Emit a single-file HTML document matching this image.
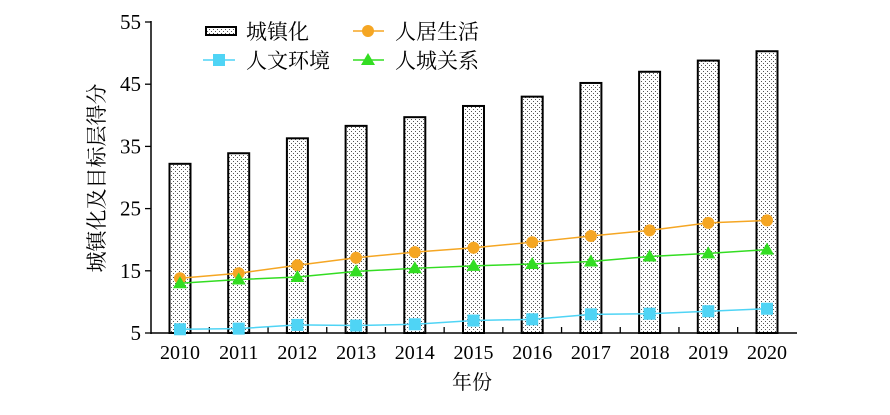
<!DOCTYPE html>
<html><head><meta charset="utf-8"><style>
html,body{margin:0;padding:0;background:#fff}
svg text{font-family:"Liberation Serif","Noto Serif CJK SC",serif;fill:#000}
</style></head><body>
<svg width="890" height="410" viewBox="0 0 890 410" xmlns="http://www.w3.org/2000/svg">
<defs>
<pattern id="dots" width="4" height="4" patternUnits="userSpaceOnUse">
<rect width="4" height="4" fill="#fff"/><rect x="1" y="1" width="1" height="1" fill="#555"/><rect x="3" y="3" width="1" height="1" fill="#555"/>
</pattern>
</defs>
<g id="bars" stroke="#000" stroke-width="2" fill="url(#dots)"></g>
<line x1="151" y1="21" x2="151" y2="334" stroke="#000" stroke-width="1.5"/>
<line x1="151" y1="333" x2="797" y2="333" stroke="#000" stroke-width="1.5"/>
<g id="ticks" stroke="#000" stroke-width="1.3"></g>
<g id="ylab" font-size="21" text-anchor="end"></g>
<g id="xlab" font-size="20" text-anchor="middle"></g>
<g id="lines"></g>
<text x="472" y="389" font-size="20" text-anchor="middle" font-family="Noto Serif CJK SC,serif">年份</text>
<text transform="translate(104,178) rotate(-90)" font-size="21" text-anchor="middle" font-family="Noto Serif CJK SC,serif">城镇化及目标层得分</text>
<rect x="206" y="27" width="30" height="8" fill="url(#dots)" stroke="#000" stroke-width="2"/>
<text x="246" y="39" font-size="21" font-family="Noto Sans CJK SC,sans-serif">城镇化</text>
<line x1="203" y1="60" x2="235" y2="60" stroke="#4fd4f5" stroke-width="1.5"/><rect x="213" y="54" width="12" height="12" fill="#4fd4f5"/>
<text x="246" y="68" font-size="21" font-family="Noto Sans CJK SC,sans-serif">人文环境</text>
<line x1="353" y1="31" x2="384" y2="31" stroke="#f5a623" stroke-width="1.5"/><circle cx="368" cy="31" r="6" fill="#f5a623"/>
<text x="395" y="39" font-size="21" font-family="Noto Sans CJK SC,sans-serif">人居生活</text>
<line x1="353" y1="60" x2="384" y2="60" stroke="#33dd22" stroke-width="1.5"/><polygon points="368,53 375,65 361,65" fill="#33dd22"/>
<text x="395" y="68" font-size="21" font-family="Noto Sans CJK SC,sans-serif">人城关系</text>
</svg>
<script>
const ns="http://www.w3.org/2000/svg";
const Y=v=>333-(v-5)*6.22, X=i=>180+i*58.7;
function el(p,t,a){const e=document.createElementNS(ns,t);for(const k in a)e.setAttribute(k,a[k]);document.getElementById(p).appendChild(e);return e;}
const bars=[32.2,33.9,36.3,38.3,39.7,41.5,43,45.2,47,48.8,50.3];
bars.forEach((v,i)=>el("bars","rect",{x:X(i)-10.5,y:Y(v),width:21,height:333-Y(v)}));
[5,15,25,35,45,55].forEach(v=>{el("ticks","line",{x1:145,x2:151,y1:Y(v),y2:Y(v)});const t=el("ylab","text",{x:141,y:Y(v)+7});t.textContent=v;});
for(let i=0;i<11;i++){const t=el("xlab","text",{x:X(i),y:359});t.textContent=2010+i;}
for(let i=0;i<10;i++){el("ticks","line",{x1:X(i)+29.35,x2:X(i)+29.35,y1:327,y2:333});}
function series(d,c,m){el("lines","polyline",{points:d.map((v,i)=>X(i)+","+Y(v)).join(" "),fill:"none",stroke:c,"stroke-width":1.5});
d.forEach((v,i)=>{const x=X(i),y=Y(v);if(m=="c")el("lines","circle",{cx:x,cy:y,r:6,fill:c});else if(m=="s")el("lines","rect",{x:x-6,y:y-6,width:12,height:12,fill:c});else el("lines","polygon",{points:`${x},${y-7} ${x+7},${y+5} ${x-7},${y+5}`,fill:c});});}
series([13.8,14.6,15.9,17.1,18.0,18.7,19.6,20.6,21.5,22.7,23.1],"#f5a623","c");
series([13.0,13.6,14.0,14.9,15.4,15.8,16.1,16.5,17.3,17.8,18.4],"#33dd22","t");
series([5.6,5.7,6.3,6.2,6.4,7.0,7.2,8.0,8.1,8.5,8.9],"#4fd4f5","s");
</script>
</body></html>
